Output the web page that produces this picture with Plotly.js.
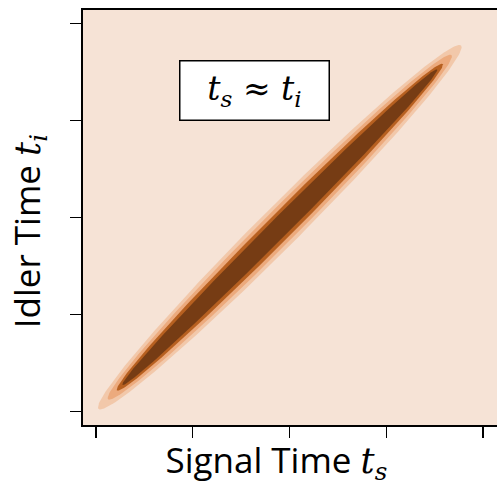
<!DOCTYPE html>
<html>
<head>
<meta charset="utf-8">
<script src="https://cdn.plot.ly/plotly-3.0.1.min.js"></script>
<style>html,body{margin:0;padding:0;background:#fff;}#chart{width:497px;height:486px;}</style>
</head>
<body>
<div id="chart"></div>
<script>
// Axis ticks (unlabelled) in signal / idler time units
var tickValues = [-2, -1, 0, 1, 2];
// Contour bands, outermost to innermost
var bandCenter = [-0.10, -0.10];              // centre of the joint temporal intensity (t_s, t_i)
var bandAlongHalf = [2.65, 2.51, 2.38, 2.30];  // half-length along the t_s = t_i diagonal
var bandAcrossHalf = [0.207, 0.171, 0.134, 0.098]; // half-width across the diagonal
var bandColors = ['#f2c8aa', '#ecaa7d', '#b76020', '#763c14'];
var backgroundColor = '#f6e3d6';
var mathFont = "font-family:'DejaVu Serif'";
var xTitle = 'Signal Time <span style="' + mathFont + '"><i>t</i><sub><i>s</i></sub></span>';
var yTitle = 'Idler Time <span style="' + mathFont + '"><i>t</i><sub><i>i</i></sub></span>';
var boxText = '<i>t</i><sub><i>s</i></sub> \u2248 <i>t</i><sub><i>i</i></sub>';
var titlePad = '\u00a0\u00a0\u00a0\u200b';

var traces = [];
var N = 240;
for (var k = 0; k < bandAlongHalf.length; k++) {
  var xs = [], ys = [];
  for (var j = 0; j <= N; j++) {
    var th = 2 * Math.PI * j / N;
    var u = bandAlongHalf[k] * Math.cos(th);
    var v = bandAcrossHalf[k] * Math.sin(th);
    xs.push(bandCenter[0] + (u - v) / Math.SQRT2);
    ys.push(bandCenter[1] + (u + v) / Math.SQRT2);
  }
  traces.push({
    type: 'scatter', mode: 'lines', x: xs, y: ys,
    fill: 'toself', fillcolor: bandColors[k],
    line: {width: 0, color: bandColors[k]},
    hoverinfo: 'skip', showlegend: false
  });
}

var axisCommon = {
  tickvals: tickValues, ticks: 'outside', ticklen: 11, tickwidth: 1.3, tickcolor: '#000',
  showticklabels: false, showgrid: false, zeroline: false,
  showline: true, linewidth: 2, linecolor: '#000', fixedrange: true
};

var layout = {
  width: 497, height: 486,
  margin: {l: 83, r: 0, t: 10, b: 61, pad: 0},
  paper_bgcolor: '#ffffff', plot_bgcolor: backgroundColor,
  showlegend: false,
  font: {family: 'Open Sans, Noto Sans, sans-serif', color: '#000'},
  xaxis: Object.assign({}, axisCommon, {
    range: [-2.134, 2.145], mirror: true,
    title: {text: xTitle + titlePad, font: {size: 35, color: '#000'}, standoff: 14}
  }),
  yaxis: Object.assign({}, axisCommon, {
    range: [-2.14, 2.14], mirror: false,
    title: {text: yTitle + titlePad, font: {size: 35, color: '#000'}, standoff: 19}
  }),
  annotations: [{
    xref: 'paper', yref: 'paper', x: 0.414, y: 0.806,
    xanchor: 'center', yanchor: 'middle', showarrow: false,
    text: boxText,
    font: {family: 'DejaVu Serif, serif', size: 33, color: '#000'},
    bgcolor: '#ffffff', bordercolor: '#000', borderwidth: 1.5, borderpad: 1,
    width: 146, height: 56
  }]
};

Plotly.newPlot('chart', traces, layout, {displayModeBar: false, staticPlot: true});
</script>
</body>
</html>
